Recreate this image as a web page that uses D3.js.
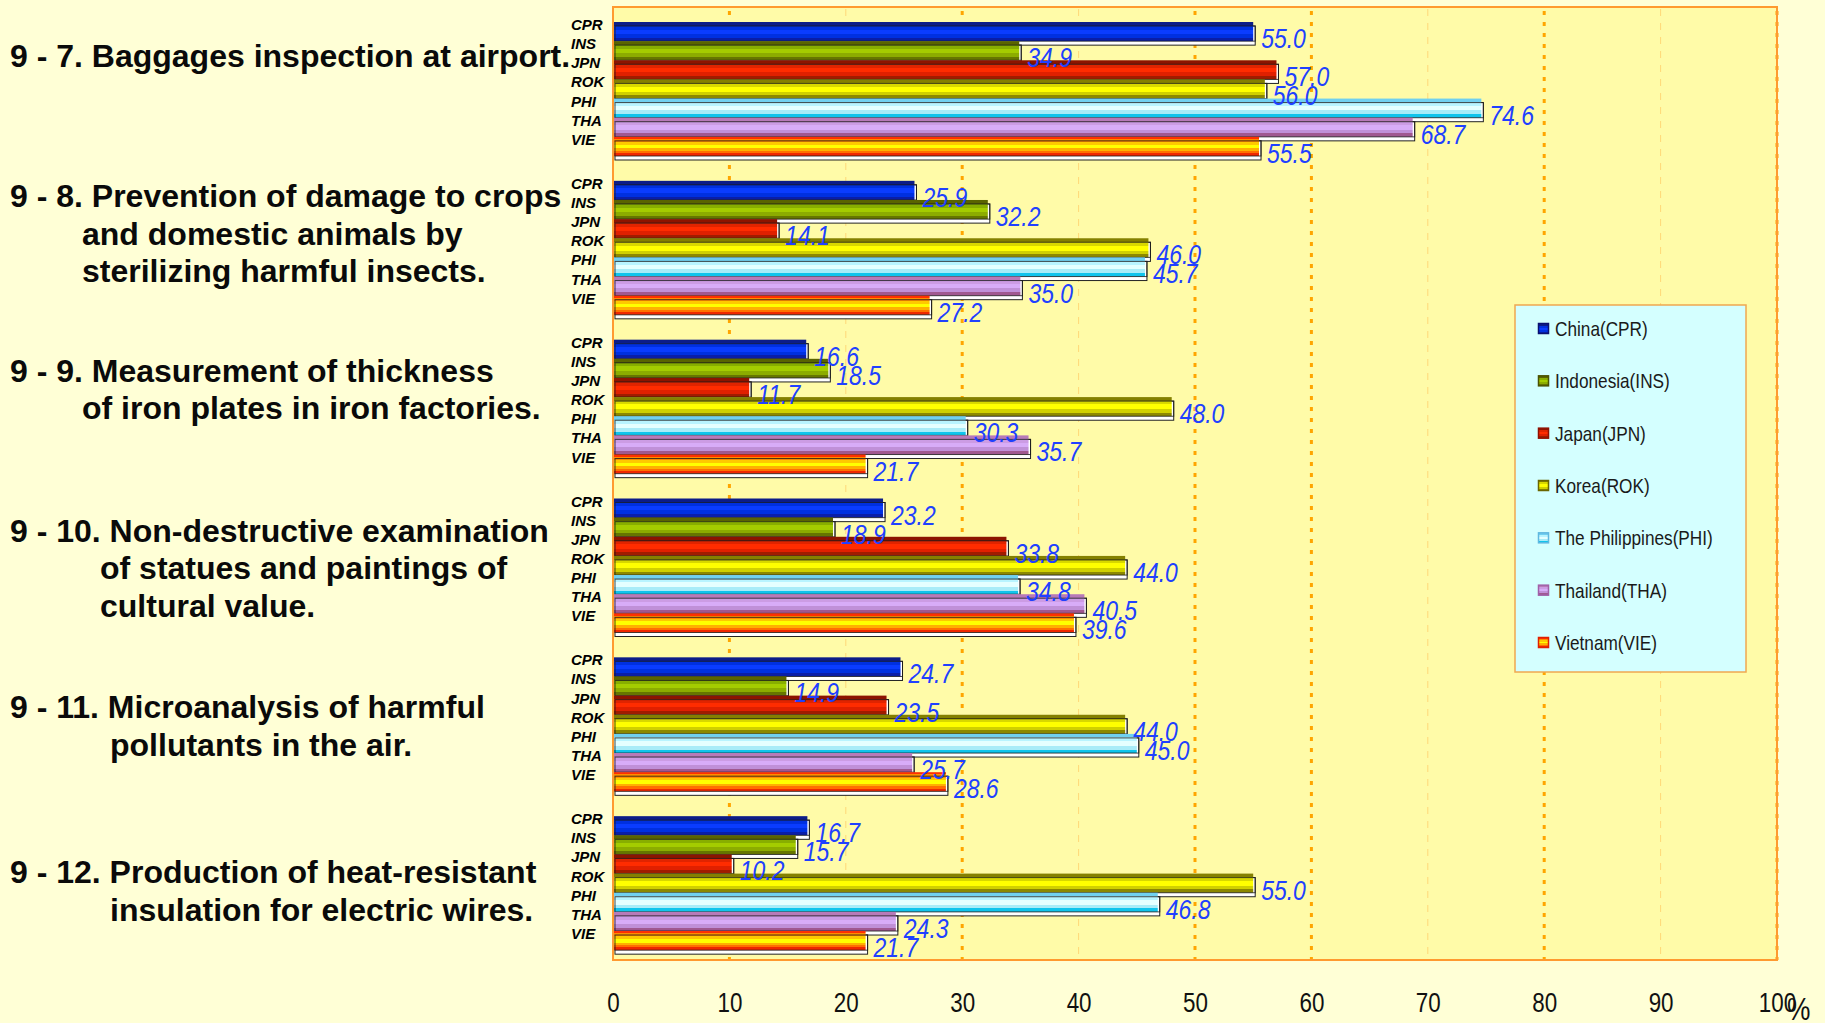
<!DOCTYPE html>
<html>
<head>
<meta charset="utf-8">
<script src="https://cdn.jsdelivr.net/npm/d3@7"></script>
<style>
  html, body { margin: 0; padding: 0; background: #FFFFD6; }
  svg { display: block; }
</style>
</head>
<body>
<svg id="chart" width="1825" height="1023"></svg>
<script>
// ---------------- DATA ----------------
const countries = ["CPR", "INS", "JPN", "ROK", "PHI", "THA", "VIE"];
const countryNames = ["China(CPR)", "Indonesia(INS)", "Japan(JPN)", "Korea(ROK)", "The Philippines(PHI)", "Thailand(THA)", "Vietnam(VIE)"];
const groups = ["9-7", "9-8", "9-9", "9-10", "9-11", "9-12"];
const groupTitles = [
  ["9 - 7. Baggages inspection at airport."],
  ["9 - 8. Prevention of damage to crops", "and domestic animals by", "sterilizing harmful insects."],
  ["9 - 9. Measurement of thickness", "of iron plates in iron factories."],
  ["9 - 10. Non-destructive examination", "of statues and paintings of", "cultural value."],
  ["9 - 11. Microanalysis of harmful", "pollutants in the air."],
  ["9 - 12. Production of heat-resistant", "insulation for electric wires."]
];
const valuesCPR = [55.0, 25.9, 16.6, 23.2, 24.7, 16.7];
const valuesINS = [34.9, 32.2, 18.5, 18.9, 14.9, 15.7];
const valuesJPN = [57.0, 14.1, 11.7, 33.8, 23.5, 10.2];
const valuesROK = [56.0, 46.0, 48.0, 44.0, 44.0, 55.0];
const valuesPHI = [74.6, 45.7, 30.3, 34.8, 45.0, 46.8];
const valuesTHA = [68.7, 35.0, 35.7, 40.5, 25.7, 24.3];
const valuesVIE = [55.5, 27.2, 21.7, 39.6, 28.6, 21.7];
const xTickValues = [0, 10, 20, 30, 40, 50, 60, 70, 80, 90, 100];
const gridHeavy = [10, 30, 50, 60, 80, 100];
const gridLight = [20, 40, 70, 90];

// ---------------- LAYOUT / STYLE ----------------
const W = 1825, H = 1023;
const plot = { left: 613, right: 1777, top: 7, bottom: 960 };
const titleFirstBaseline = [60, 41, 57, 58, 76, 82]; // relative to group band start
const titleIndent = [0, 72, 72, 90, 100, 100];
const titleLineHeight = 37.8;
const narrowFont = "'Liberation Sans Narrow', 'Liberation Sans', Arial, sans-serif";

const seriesValues = [valuesCPR, valuesINS, valuesJPN, valuesROK, valuesPHI, valuesTHA, valuesVIE];

const gradStops = {
  CPR: [[0,'#0c1c88'],[0.2,'#0c1c88'],[0.2,'#0030e0'],[0.4,'#0030e0'],[0.4,'#0a3cff'],[0.62,'#0a3cff'],[0.62,'#0030e0'],[0.82,'#0030e0'],[0.82,'#0a1ea8'],[1,'#0a1ea8']],
  INS: [[0,'#5a6400'],[0.2,'#5a6400'],[0.2,'#88ae00'],[0.4,'#88ae00'],[0.4,'#a4cc00'],[0.62,'#a4cc00'],[0.62,'#8cac00'],[0.82,'#8cac00'],[0.82,'#667600'],[1,'#667600']],
  JPN: [[0,'#8c1400'],[0.2,'#8c1400'],[0.2,'#e02400'],[0.4,'#e02400'],[0.4,'#ff2c00'],[0.62,'#ff2c00'],[0.62,'#e02000'],[0.82,'#e02000'],[0.82,'#a01c00'],[1,'#a01c00']],
  ROK: [[0,'#848000'],[0.2,'#848000'],[0.2,'#d8d800'],[0.38,'#d8d800'],[0.38,'#ffff00'],[0.64,'#ffff00'],[0.64,'#d0d000'],[0.82,'#d0d000'],[0.82,'#8c8800'],[1,'#8c8800']],
  PHI: [[0,'#70d0f0'],[0.18,'#70d0f0'],[0.18,'#b8f4ff'],[0.38,'#b8f4ff'],[0.38,'#e4ffff'],[0.62,'#e4ffff'],[0.62,'#a8ecf8'],[0.82,'#a8ecf8'],[0.82,'#10c4ec'],[1,'#10c4ec']],
  THA: [[0,'#b87ab8'],[0.2,'#b87ab8'],[0.2,'#cc9ce4'],[0.4,'#cc9ce4'],[0.4,'#d8acf8'],[0.62,'#d8acf8'],[0.62,'#c090d8'],[0.82,'#c090d8'],[0.82,'#a05890'],[1,'#a05890']],
  VIE: [[0,'#ff3000'],[0.12,'#ff3000'],[0.12,'#ff8c00'],[0.28,'#ff8c00'],[0.28,'#ffc800'],[0.42,'#ffc800'],[0.42,'#ffff00'],[0.6,'#ffff00'],[0.6,'#ffb000'],[0.74,'#ffb000'],[0.74,'#ff7000'],[0.86,'#ff7000'],[0.86,'#f02800'],[1,'#f02800']]
};
const markerStroke = { CPR:'#0a1070', INS:'#4a5200', JPN:'#901000', ROK:'#6a6600', PHI:'#60b8e0', THA:'#a060a8', VIE:'#e02000' };

// ---------------- SCALES ----------------
const x = d3.scaleLinear().domain([0, 100]).range([plot.left, plot.right]);
const yGroup = d3.scaleBand().domain(groups).range([plot.top, plot.bottom]).paddingInner(0).paddingOuter(0);
const yBar = d3.scaleBand().domain(countries).range([15, 149]).padding(0);

const svg = d3.select("#chart");
const defs = svg.append("defs");
countries.forEach(c => {
  const g = defs.append("linearGradient").attr("id", "grad-" + c)
    .attr("x1", 0).attr("y1", 0).attr("x2", 0).attr("y2", 1);
  gradStops[c].forEach(s => g.append("stop").attr("offset", s[0]).attr("stop-color", s[1]));
});

// background
svg.append("rect").attr("x", 0).attr("y", 0).attr("width", W).attr("height", H).attr("fill", "#FFFFD6");
svg.append("rect").attr("x", plot.left).attr("y", plot.top)
  .attr("width", plot.right - plot.left).attr("height", plot.bottom - plot.top)
  .attr("fill", "#FFFBA8");

// grid
svg.append("g").selectAll("line").data(gridLight).join("line")
  .attr("x1", d => x(d)).attr("x2", d => x(d))
  .attr("y1", plot.top + 2).attr("y2", plot.bottom)
  .attr("stroke", "#FFD878").attr("stroke-width", 1).attr("stroke-dasharray", "7,7");
svg.append("g").selectAll("line").data(gridHeavy).join("line")
  .attr("x1", d => x(d)).attr("x2", d => x(d))
  .attr("y1", plot.top + 4).attr("y2", plot.bottom)
  .attr("stroke", "#FFA500").attr("stroke-width", 3).attr("stroke-dasharray", "4,7");

// bars
const barH = yBar.bandwidth();
const rows = [];
groups.forEach((g, gi) => {
  countries.forEach((c, ci) => {
    rows.push({ group: g, gi, country: c, ci, value: seriesValues[ci][gi] });
  });
});
const barsG = svg.append("g");
rows.forEach(d => {
  const top = yGroup(d.group) + yBar(d.country);
  const w = x(d.value) - x(0);
  barsG.append("rect").attr("x", x(0) + 2).attr("y", top + 4).attr("width", w).attr("height", barH)
    .attr("fill", "#ffffff").attr("stroke", "#222").attr("stroke-width", 1);
  barsG.append("rect").attr("x", x(0)).attr("y", top).attr("width", w).attr("height", barH)
    .attr("fill", "url(#grad-" + d.country + ")");
  barsG.append("rect").attr("x", x(0) + 2).attr("y", top + 4).attr("width", w).attr("height", barH - 4)
    .attr("fill", "none").attr("stroke", "#1a1a1a").attr("stroke-width", 1).attr("stroke-opacity", 0.8);
});

// value labels
svg.append("g").selectAll("text").data(rows).join("text")
  .attr("transform", d => `translate(${x(d.value) + 8},${yGroup(d.group) + yBar(d.country) + 26}) scale(0.82,1)`)
  .attr("font-family", narrowFont)
  .attr("font-style", "italic")
  .attr("font-size", 28)
  .attr("fill", "#2040ff")
  .text(d => d.value.toFixed(1));

// country labels
svg.append("g").selectAll("text").data(rows).join("text")
  .attr("x", 571)
  .attr("y", d => yGroup(d.group) + yBar(d.country) + 8)
  .attr("font-family", "'Liberation Sans', Arial, sans-serif")
  .attr("font-weight", "bold").attr("font-style", "italic")
  .attr("font-size", 15).attr("fill", "#000")
  .text(d => d.country);

// plot border
svg.append("rect").attr("x", plot.left).attr("y", plot.top)
  .attr("width", plot.right - plot.left).attr("height", plot.bottom - plot.top)
  .attr("fill", "none").attr("stroke", "#FF9A30").attr("stroke-width", 2);

// group titles
groups.forEach((g, gi) => {
  groupTitles[gi].forEach((line, li) => {
    svg.append("text")
      .attr("x", li === 0 ? 10 : 10 + titleIndent[gi])
      .attr("y", yGroup(g) + titleFirstBaseline[gi] + li * titleLineHeight)
      .attr("font-family", "'Liberation Sans', Arial, sans-serif")
      .attr("font-weight", "bold").attr("font-size", 32).attr("fill", "#0a0a0a")
      .text(line);
  });
});

// x axis
const axis = d3.axisBottom(x).tickValues(xTickValues).tickSize(0).tickPadding(0).tickFormat(d3.format("d"));
const axG = svg.append("g").attr("transform", "translate(0,1012)").call(axis);
axG.select(".domain").remove();
axG.selectAll("text").attr("y", 0).attr("dy", null)
  .attr("transform", "scale(0.8,1)")
  .attr("font-family", narrowFont)
  .attr("font-size", 28).attr("fill", "#111");
svg.append("text").attr("transform", "translate(1787,1020) scale(0.85,1)")
  .attr("font-family", narrowFont)
  .attr("font-size", 31).attr("fill", "#111").text("%");

// legend
const lg = svg.append("g");
lg.append("rect").attr("x", 1515).attr("y", 305).attr("width", 231).attr("height", 367)
  .attr("fill", "#D4FFFF").attr("stroke", "#F0A850").attr("stroke-width", 1.5);
const ly = d3.scalePoint().domain(countries).range([329, 643]);
countries.forEach((c, i) => {
  lg.append("rect").attr("x", 1538.5).attr("y", ly(c) - 5.5).attr("width", 10).attr("height", 10)
    .attr("fill", "url(#grad-" + c + ")").attr("stroke", markerStroke[c]).attr("stroke-width", 1.5);
  lg.append("text").attr("transform", `translate(1555,${ly(c) + 7}) scale(0.82,1)`)
    .attr("font-family", narrowFont)
    .attr("font-size", 21).attr("fill", "#1a1a1a").text(countryNames[i]);
});
</script>
</body>
</html>
